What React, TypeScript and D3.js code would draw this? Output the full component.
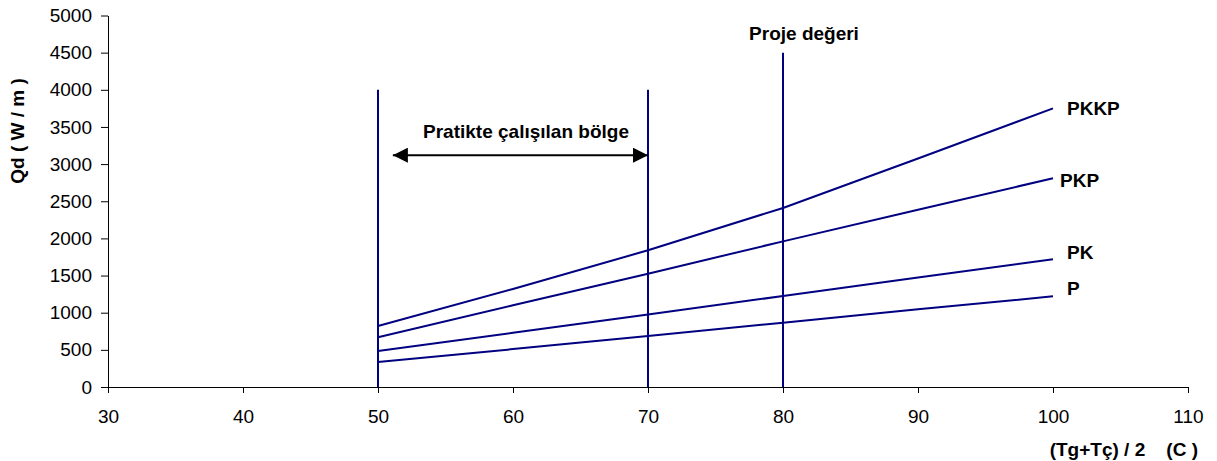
import * as d3 from 'd3';
import React, { useEffect, useRef } from 'react';

// Sıcaklık değerleri (°C)
const temps = [50, 60, 70, 80, 90, 100];

// Seriler (W/m)
const seriesP = [335, 510, 685, 865, 1045, 1220];
const seriesPK = [485, 730, 975, 1225, 1475, 1720];
const seriesPKP = [670, 1100, 1525, 1960, 2385, 2810];
const seriesPKKP = [820, 1320, 1840, 2410, 3075, 3750];

const seriesNames = ['PKKP', 'PKP', 'PK', 'P'];

const xTicks = [30, 40, 50, 60, 70, 80, 90, 100, 110];
const yTicks = [0, 500, 1000, 1500, 2000, 2500, 3000, 3500, 4000, 4500, 5000];

// Dikey çizgiler: x değeri ve üst sınırı
const markerX = [50, 70, 80];
const markerTop = [4000, 4000, 4500];

// Çalışma bölgesi oku
const rangeFrom = 51.1;
const rangeTo = 70;
const rangeLevel = 3120;

const App: React.FC = () => {
  const ref = useRef<SVGSVGElement | null>(null);

  useEffect(() => {
    if (!ref.current) return;
    const svg = d3.select(ref.current);
    svg.selectAll('*').remove();

    const font = 'Arial, "Liberation Sans", sans-serif';
    const navy = '#000080';

    const x = d3.scaleLinear().domain([30, 110]).range([108, 1188]);
    const y = d3.scaleLinear().domain([0, 5000]).range([387, 15.5]);

    const defs = svg.append('defs');
    ['start', 'end'].forEach((k) => {
      defs
        .append('marker')
        .attr('id', `arrow-${k}`)
        .attr('viewBox', '0 0 10 10')
        .attr('refX', k === 'end' ? 10 : 0)
        .attr('refY', 5)
        .attr('markerWidth', 8.5)
        .attr('markerHeight', 7.5)
        .attr('markerUnits', 'strokeWidth')
        .attr('orient', 'auto')
        .append('path')
        .attr('d', k === 'end' ? 'M0,0L10,5L0,10Z' : 'M10,0L0,5L10,10Z')
        .attr('fill', '#000');
    });

    // Eksenler
    const yAxis = svg
      .append('g')
      .attr('transform', `translate(${x(30)},0)`)
      .call(
        d3
          .axisLeft(y)
          .tickValues(yTicks)
          .tickFormat(d3.format('d'))
          .tickSize(7)
          .tickPadding(9)
          .tickSizeOuter(0)
      );
    yAxis.selectAll('text').attr('font-size', 19).attr('font-family', font).attr('fill', '#000');

    const xAxis = svg
      .append('g')
      .attr('transform', `translate(0,${y(0)})`)
      .call(
        d3
          .axisBottom(x)
          .tickValues(xTicks)
          .tickFormat(d3.format('d'))
          .tickSize(6)
          .tickPadding(17)
          .tickSizeOuter(0)
      );
    xAxis.selectAll('text').attr('font-size', 19).attr('font-family', font).attr('fill', '#000');

    [yAxis, xAxis].forEach((a) => {
      a.selectAll('line').attr('stroke', '#000');
      a.select('.domain').attr('stroke', '#000');
    });

    // Dikey çizgiler
    svg
      .selectAll('line.marker')
      .data(markerX)
      .enter()
      .append('line')
      .attr('class', 'marker')
      .attr('x1', (d) => x(d))
      .attr('x2', (d) => x(d))
      .attr('y1', y(0))
      .attr('y2', (_d, i) => y(markerTop[i]))
      .attr('stroke', navy)
      .attr('stroke-width', 2);

    // Seriler
    const allSeries = [seriesPKKP, seriesPKP, seriesPK, seriesP];
    const line = d3
      .line<number>()
      .x((_d, i) => x(temps[i]))
      .y((d) => y(d));

    svg
      .selectAll('path.series')
      .data(allSeries)
      .enter()
      .append('path')
      .attr('class', 'series')
      .attr('d', (d) => line(d))
      .attr('fill', 'none')
      .attr('stroke', navy)
      .attr('stroke-width', 2);

    // Seri etiketleri
    const labelDx = [14, 7, 14, 14];
    const labelDy = [7, 9, 0, -1];
    svg
      .selectAll('text.series-label')
      .data(allSeries)
      .enter()
      .append('text')
      .attr('class', 'series-label')
      .attr('x', (_d, i) => x(temps[temps.length - 1]) + labelDx[i])
      .attr('y', (d, i) => y(d[d.length - 1]) + labelDy[i])
      .attr('font-family', font)
      .attr('font-size', 19)
      .attr('font-weight', 'bold')
      .text((_d, i) => seriesNames[i]);

    // Ok
    svg
      .append('line')
      .attr('x1', x(rangeFrom))
      .attr('x2', x(rangeTo))
      .attr('y1', y(rangeLevel))
      .attr('y2', y(rangeLevel))
      .attr('stroke', '#000')
      .attr('stroke-width', 2)
      .attr('marker-start', 'url(#arrow-start)')
      .attr('marker-end', 'url(#arrow-end)');

    svg
      .append('text')
      .attr('x', 526)
      .attr('y', 138)
      .attr('text-anchor', 'middle')
      .attr('font-family', font)
      .attr('font-size', 19)
      .attr('font-weight', 'bold')
      .text('Pratikte çalışılan bölge');

    svg
      .append('text')
      .attr('x', 804)
      .attr('y', 40)
      .attr('text-anchor', 'middle')
      .attr('font-family', font)
      .attr('font-size', 19)
      .attr('font-weight', 'bold')
      .text('Proje değeri');

    // Eksen başlıkları
    svg
      .append('text')
      .attr('x', 1198)
      .attr('y', 456)
      .attr('text-anchor', 'end')
      .attr('font-family', font)
      .attr('font-size', 19)
      .attr('font-weight', 'bold')
      .attr('xml:space', 'preserve')
      .style('white-space', 'pre')
      .text('(Tg+Tç) / 2    (C )');

    svg
      .append('text')
      .attr('transform', 'translate(24,131) rotate(-90)')
      .attr('text-anchor', 'middle')
      .attr('font-family', font)
      .attr('font-size', 19)
      .attr('font-weight', 'bold')
      .attr('xml:space', 'preserve')
      .style('white-space', 'pre')
      .text('Qd ( W / m )');
  }, []);

  return (
    <svg
      ref={ref}
      width={1217}
      height={461}
      style={{ position: 'absolute', left: 0, top: 0, background: '#fff' }}
    />
  );
};

export default App;
